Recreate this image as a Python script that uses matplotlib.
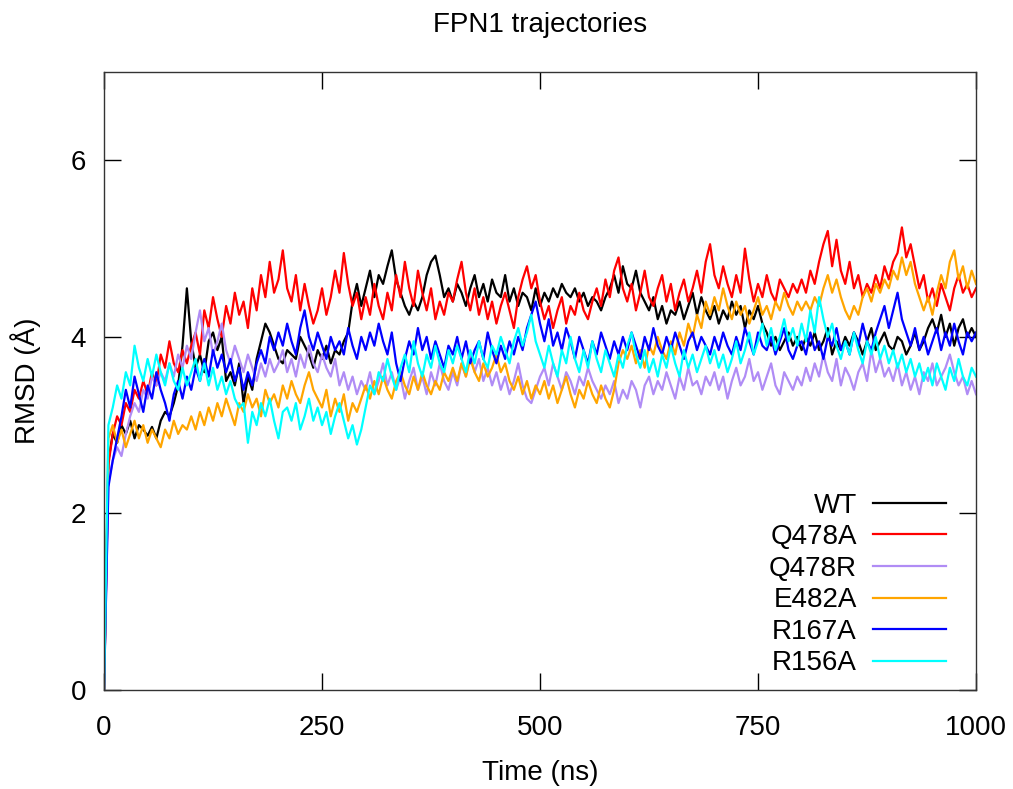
import numpy as np
import matplotlib.pyplot as plt

plt.rcParams['font.family'] = ['Liberation Sans', 'DejaVu Sans']

# time axis (ns), one sample every 5 ns
time_ns = list(range(0, 1001, 5))

# RMSD values (Angstrom)
wt = [0.00, 2.60, 2.90, 2.80, 3.00, 2.90, 3.05, 2.85, 3.00, 2.95, 2.88, 2.98, 2.85, 3.05, 3.15, 3.10, 3.25, 3.45, 3.90, 4.55,
      3.95, 3.65, 3.80, 3.60, 3.95, 4.05, 3.85, 4.00, 3.50, 3.60, 3.45, 3.70, 3.25, 3.55, 3.40, 3.75, 3.95, 4.15, 4.05, 3.90,
      3.75, 3.70, 3.85, 3.80, 3.75, 4.00, 3.90, 3.80, 3.65, 3.85, 3.75, 3.90, 3.70, 3.85, 3.80, 3.95, 4.05, 4.40, 4.60, 4.35,
      4.55, 4.75, 4.45, 4.70, 4.60, 4.80, 4.98, 4.65, 4.50, 4.35, 4.25, 4.40, 4.30, 4.45, 4.70, 4.85, 4.92, 4.70, 4.45, 4.55,
      4.40, 4.60, 4.50, 4.35, 4.55, 4.70, 4.45, 4.60, 4.40, 4.65, 4.50, 4.45, 4.70, 4.40, 4.55, 4.35, 4.50, 4.45, 4.30, 4.55,
      4.35, 4.50, 4.40, 4.55, 4.45, 4.60, 4.50, 4.45, 4.55, 4.40, 4.50, 4.35, 4.45, 4.40, 4.30, 4.45, 4.55, 4.70, 4.50, 4.80,
      4.60, 4.55, 4.75, 4.50, 4.40, 4.30, 4.45, 4.20, 4.35, 4.15, 4.30, 4.25, 4.40, 4.20, 4.35, 4.50, 4.25, 4.45, 4.30, 4.20,
      4.35, 4.15, 4.30, 4.20, 4.40, 4.25, 4.35, 4.10, 4.30, 4.20, 4.35, 4.15, 4.05, 3.90, 4.00, 3.85, 3.95, 4.05, 3.90, 4.00,
      3.85, 4.00, 3.90, 4.05, 3.85, 3.95, 4.10, 3.80, 3.95, 3.85, 4.00, 3.90, 4.05, 3.95, 3.80, 3.95, 4.10, 3.85, 3.95, 4.05,
      3.90, 3.85, 4.00, 3.95, 3.80, 3.90, 4.05, 3.85, 3.95, 4.10, 4.20, 4.05, 4.25, 4.00, 4.15, 3.90, 4.10, 4.20, 4.00, 4.10,
      4.00]

q478a = [0.00, 2.55, 2.90, 3.10, 3.00, 3.25, 3.15, 3.40, 3.30, 3.50, 3.35, 3.60, 3.45, 3.80, 3.65, 3.95, 3.70, 3.60, 3.85, 3.70,
         3.90, 4.05, 3.80, 4.30, 4.10, 4.45, 4.20, 4.00, 4.35, 4.15, 4.50, 4.25, 4.40, 4.10, 4.55, 4.30, 4.70, 4.45, 4.85, 4.50,
         4.65, 4.98, 4.55, 4.40, 4.70, 4.30, 4.60, 4.35, 4.15, 4.30, 4.55, 4.25, 4.45, 4.75, 4.50, 4.95, 4.60, 4.35, 4.50, 4.20,
         4.45, 4.25, 4.60, 4.35, 4.20, 4.50, 4.30, 4.70, 4.45, 4.85, 4.55, 4.35, 4.75, 4.50, 4.30, 4.55, 4.20, 4.40, 4.25, 4.50,
         4.40, 4.65, 4.85, 4.50, 4.30, 4.55, 4.25, 4.45, 4.20, 4.40, 4.15, 4.35, 4.50, 4.30, 4.10, 4.45, 4.65, 4.80, 4.55, 4.70,
         4.40, 4.20, 4.35, 4.10, 4.30, 4.45, 4.15, 4.35, 4.25, 4.50, 4.30, 4.20, 4.40, 4.55, 4.35, 4.65, 4.45, 4.75, 4.90, 4.55,
         4.40, 4.60, 4.30, 4.50, 4.75, 4.45, 4.35, 4.55, 4.70, 4.40, 4.60, 4.30, 4.50, 4.65, 4.40, 4.55, 4.75, 4.50, 4.85, 5.05,
         4.70, 4.55, 4.80, 4.60, 4.45, 4.70, 4.50, 5.00, 4.65, 4.40, 4.60, 4.45, 4.70, 4.50, 4.40, 4.65, 4.55, 4.45, 4.60, 4.50,
         4.65, 4.50, 4.75, 4.60, 4.85, 5.05, 5.20, 4.80, 5.10, 4.75, 4.60, 4.85, 4.55, 4.70, 4.45, 4.60, 4.50, 4.70, 4.55, 4.80,
         4.65, 4.85, 4.95, 5.24, 4.90, 5.05, 4.80, 4.55, 4.70, 4.40, 4.55, 4.35, 4.60, 4.45, 4.30, 4.55, 4.70, 4.50, 4.60, 4.45,
         4.55]

q478r = [0.00, 2.35, 2.60, 2.75, 2.65, 2.90, 3.10, 3.25, 3.15, 3.40, 3.30, 3.55, 3.45, 3.60, 3.50, 3.70, 3.55, 3.80, 3.65, 3.90,
         3.75, 4.05, 4.30, 3.95, 4.10, 3.80, 3.95, 4.15, 3.85, 3.70, 3.90, 3.75, 3.60, 3.80, 3.65, 3.50, 3.70, 3.55, 3.75, 3.60,
         3.70, 3.85, 3.60, 3.75, 3.55, 3.80, 3.65, 3.90, 3.70, 3.60, 3.80, 3.65, 3.55, 3.75, 3.45, 3.60, 3.40, 3.55, 3.35, 3.50,
         3.40, 3.60, 3.35, 3.50, 3.70, 3.45, 3.60, 3.40, 3.55, 3.30, 3.50, 3.65, 3.40, 3.55, 3.35, 3.60, 3.45, 3.70, 3.50, 3.40,
         3.60, 3.45, 3.70, 3.55, 3.80, 3.60, 3.75, 3.50, 3.65, 3.45, 3.60, 3.40, 3.55, 3.35, 3.50, 3.70, 3.45, 3.30, 3.25, 3.40,
         3.55, 3.65, 3.45, 3.70, 3.55, 3.40, 3.60, 3.50, 3.35, 3.55, 3.45, 3.65, 3.50, 3.40, 3.30, 3.45, 3.35, 3.50, 3.25, 3.40,
         3.30, 3.50, 3.40, 3.20, 3.45, 3.55, 3.35, 3.50, 3.40, 3.60, 3.45, 3.30, 3.55, 3.40, 3.65, 3.45, 3.50, 3.35, 3.55, 3.45,
         3.60, 3.40, 3.55, 3.30, 3.50, 3.65, 3.45, 3.55, 3.75, 3.50, 3.60, 3.40, 3.55, 3.70, 3.45, 3.35, 3.60, 3.50, 3.40, 3.55,
         3.45, 3.65, 3.50, 3.70, 3.55, 3.80, 3.60, 3.50, 3.75, 3.45, 3.65, 3.55, 3.40, 3.60, 3.70, 3.50, 3.85, 3.60, 3.75, 3.55,
         3.65, 3.50, 3.70, 3.45, 3.60, 3.40, 3.55, 3.35, 3.60, 3.50, 3.70, 3.45, 3.55, 3.65, 3.80, 3.60, 3.45, 3.55, 3.35, 3.50,
         3.35]

e482a = [0.00, 2.85, 3.00, 2.80, 2.95, 2.75, 2.90, 3.05, 2.85, 3.00, 2.80, 2.95, 2.85, 2.75, 2.95, 2.85, 3.05, 2.90, 3.00, 2.95,
         3.10, 2.95, 3.15, 3.00, 3.20, 3.05, 3.25, 3.10, 3.30, 3.15, 3.00, 3.25, 3.15, 3.35, 3.20, 3.30, 3.10, 3.40, 3.25, 3.35,
         3.20, 3.45, 3.30, 3.50, 3.35, 3.25, 3.45, 3.60, 3.40, 3.30, 3.20, 3.40, 3.10, 3.30, 3.15, 3.35, 3.05, 3.25, 3.15, 3.30,
         3.45, 3.30, 3.50, 3.35, 3.55, 3.40, 3.30, 3.50, 3.60, 3.45, 3.35, 3.55, 3.40, 3.60, 3.45, 3.35, 3.50, 3.40, 3.60, 3.50,
         3.65, 3.50, 3.70, 3.55, 3.75, 3.60, 3.50, 3.70, 3.55, 3.65, 3.80, 3.60, 3.70, 3.50, 3.40, 3.55, 3.35, 3.50, 3.30, 3.45,
         3.35, 3.50, 3.30, 3.45, 3.25, 3.40, 3.55, 3.35, 3.20, 3.40, 3.30, 3.50, 3.35, 3.25, 3.45, 3.30, 3.20, 3.40, 3.70, 3.85,
         3.75, 3.90, 3.70, 3.85, 3.65, 3.90, 3.80, 4.00, 3.85, 3.75, 3.95, 3.80, 4.05, 3.90, 4.15, 4.00, 4.25, 4.10, 4.40, 4.25,
         4.45, 4.30, 4.55, 4.35, 4.20, 4.40, 4.25, 4.35, 4.15, 4.30, 4.45, 4.25, 4.35, 4.20, 4.40, 4.30, 4.50, 4.35, 4.25, 4.40,
         4.30, 4.40, 4.30, 4.45, 4.35, 4.55, 4.70, 4.50, 4.65, 4.45, 4.30, 4.20, 4.35, 4.25, 4.45, 4.55, 4.40, 4.60, 4.50, 4.65,
         4.55, 4.75, 4.65, 4.90, 4.70, 4.85, 4.60, 4.45, 4.30, 4.45, 4.25, 4.50, 4.70, 4.55, 4.85, 4.98, 4.65, 4.80, 4.55, 4.75,
         4.60]

r167a = [0.00, 2.30, 2.60, 2.85, 3.10, 3.40, 3.20, 3.55, 3.35, 3.15, 3.45, 3.30, 3.60, 3.40, 3.25, 3.05, 3.35, 3.50, 3.30, 3.55,
         3.40, 3.65, 3.50, 3.75, 3.55, 3.85, 3.65, 3.80, 3.60, 3.75, 3.50, 3.65, 3.40, 3.60, 3.45, 3.70, 3.85, 3.70, 4.00, 3.85,
         4.05, 3.90, 4.15, 3.95, 3.80, 4.10, 4.30, 4.00, 3.85, 4.05, 3.90, 3.75, 4.00, 3.85, 3.95, 3.80, 4.10, 3.90, 3.75, 4.00,
         3.85, 4.05, 3.90, 4.15, 3.95, 3.80, 4.05, 3.70, 3.50, 3.75, 3.95, 3.80, 4.10, 3.85, 4.00, 3.75, 3.95, 3.80, 3.65, 3.90,
         3.80, 4.00, 3.75, 3.95, 3.70, 3.85, 3.95, 3.75, 4.05, 3.85, 3.70, 3.90, 3.75, 3.95, 3.80, 4.00, 3.85, 4.10, 4.25, 4.40,
         4.15, 3.95, 4.20, 3.90, 4.05, 3.85, 4.10, 3.95, 3.75, 4.00, 3.85, 3.70, 3.95, 3.80, 4.05, 3.90, 3.75, 3.95, 3.80, 4.00,
         3.85, 4.05, 3.90, 3.75, 4.00, 3.85, 4.10, 3.90, 3.80, 4.00, 3.85, 4.05, 3.90, 3.75, 3.95, 4.05, 3.85, 4.00, 3.90, 3.80,
         4.00, 3.85, 4.05, 3.90, 3.80, 4.00, 3.85, 4.10, 3.95, 3.80, 4.05, 3.90, 3.85, 4.00, 3.80, 3.95, 4.10, 3.85, 3.75, 3.90,
         3.95, 3.80, 4.05, 3.85, 3.95, 3.75, 4.00, 3.90, 4.10, 3.85, 3.95, 3.80, 4.05, 3.90, 4.15, 3.95, 3.85, 4.05, 4.20, 4.35,
         4.10, 4.30, 4.50, 4.20, 4.05, 3.90, 4.10, 3.85, 4.00, 3.80, 3.95, 4.10, 3.85, 4.05, 3.90, 4.15, 3.95, 3.80, 4.05, 3.95,
         4.05]

r156a = [0.00, 3.00, 3.20, 3.45, 3.30, 3.60, 3.45, 3.90, 3.65, 3.50, 3.75, 3.55, 3.80, 3.60, 3.45, 3.70, 3.50, 3.40, 3.65, 3.45,
         3.60, 3.75, 3.50, 3.70, 3.45, 3.65, 3.40, 3.55, 3.35, 3.50, 3.30, 3.20, 3.25, 2.80, 3.15, 3.00, 3.25, 3.10, 3.30, 3.05,
         2.85, 3.15, 3.20, 3.05, 3.25, 2.95, 3.10, 3.30, 3.05, 3.20, 3.00, 3.15, 2.90, 3.10, 3.25, 3.05, 2.85, 3.00, 2.78, 2.95,
         3.20, 3.45, 3.35, 3.60, 3.50, 3.75, 3.55, 3.40, 3.65, 3.80, 3.60, 3.95, 3.70, 3.55, 3.80, 3.65, 3.90, 3.70, 3.60, 3.85,
         3.70, 3.90, 3.75, 3.60, 3.85, 3.70, 3.95, 3.75, 3.65, 3.90, 3.80, 4.00, 3.85, 3.70, 3.95, 4.10, 3.90, 4.05, 4.25, 3.95,
         3.80, 3.65, 3.90, 3.70, 3.55, 3.85, 3.70, 4.00, 3.75, 3.60, 3.85, 3.65, 3.95, 3.75, 3.60, 3.85, 3.70, 3.55, 3.80, 3.65,
         3.90, 4.05, 3.80, 3.65, 3.85, 3.60, 3.75, 3.55, 3.80, 3.65, 3.90, 3.70, 3.55, 3.85, 3.65, 3.80, 3.60, 3.75, 3.90, 3.70,
         3.85, 3.65, 3.80, 3.60, 3.75, 3.95, 3.70, 3.85, 4.05, 3.80, 3.95, 4.15, 3.90, 4.10, 3.85, 4.00, 4.20, 3.95, 4.10, 3.90,
         4.15, 3.95, 4.30, 4.05, 4.45, 4.20, 4.00, 4.15, 3.90, 3.75, 3.95, 3.80, 4.05, 3.85, 3.70, 3.95, 3.80, 4.00, 3.75, 3.90,
         3.70, 3.85, 3.65, 3.80, 3.60, 3.75, 3.55, 3.70, 3.50, 3.65, 3.45, 3.70, 3.55, 3.40, 3.65, 3.50, 3.75, 3.55, 3.45, 3.65,
         3.55]

labels = ['WT', 'Q478A', 'Q478R', 'E482A', 'R167A', 'R156A']
colors = ['black', '#ff0000', '#b08cf5', '#ffa500', '#0000ff', '#00ffff']
series = [wt, q478a, q478r, e482a, r167a, r156a]

fig = plt.figure(figsize=(10.13, 7.89), dpi=100)
ax = fig.add_axes([0.1027, 0.1255, 0.8608, 0.7832])

for vals, lab, col in zip(series, labels, colors):
    ax.plot(time_ns, vals, color=col, lw=1.6, label=lab)

ax.set_xlim(0, 1000)
ax.set_ylim(0, 7)
ax.set_xticks([0, 250, 500, 750, 1000])
ax.set_yticks([0, 2, 4, 6])
ax.tick_params(direction='in', length=12, width=1, labelsize=20, top=True, right=True)
ax.tick_params(axis='x', pad=18)
ax.tick_params(axis='y', pad=13)
for s in ax.spines.values():
    s.set_linewidth(1.0)
    s.set_color('#333333')

ax.set_xlabel('Time (ns)', fontsize=20, labelpad=14)
ax.set_ylabel('RMSD (Å)', fontsize=20, labelpad=21)
fig.text(0.533, 1 - 25 / 789, 'FPN1 trajectories', fontsize=20, ha='center', va='center')

leg = ax.legend(loc='lower right', bbox_to_anchor=(0.9656, 0.022), frameon=False, markerfirst=False,
                fontsize=20, handlelength=2.63, labelspacing=0.2, borderpad=0, borderaxespad=0,
                handletextpad=0.58)
for line in leg.get_lines():
    line.set_linewidth(1.6)

plt.savefig('out.png', dpi=100)
